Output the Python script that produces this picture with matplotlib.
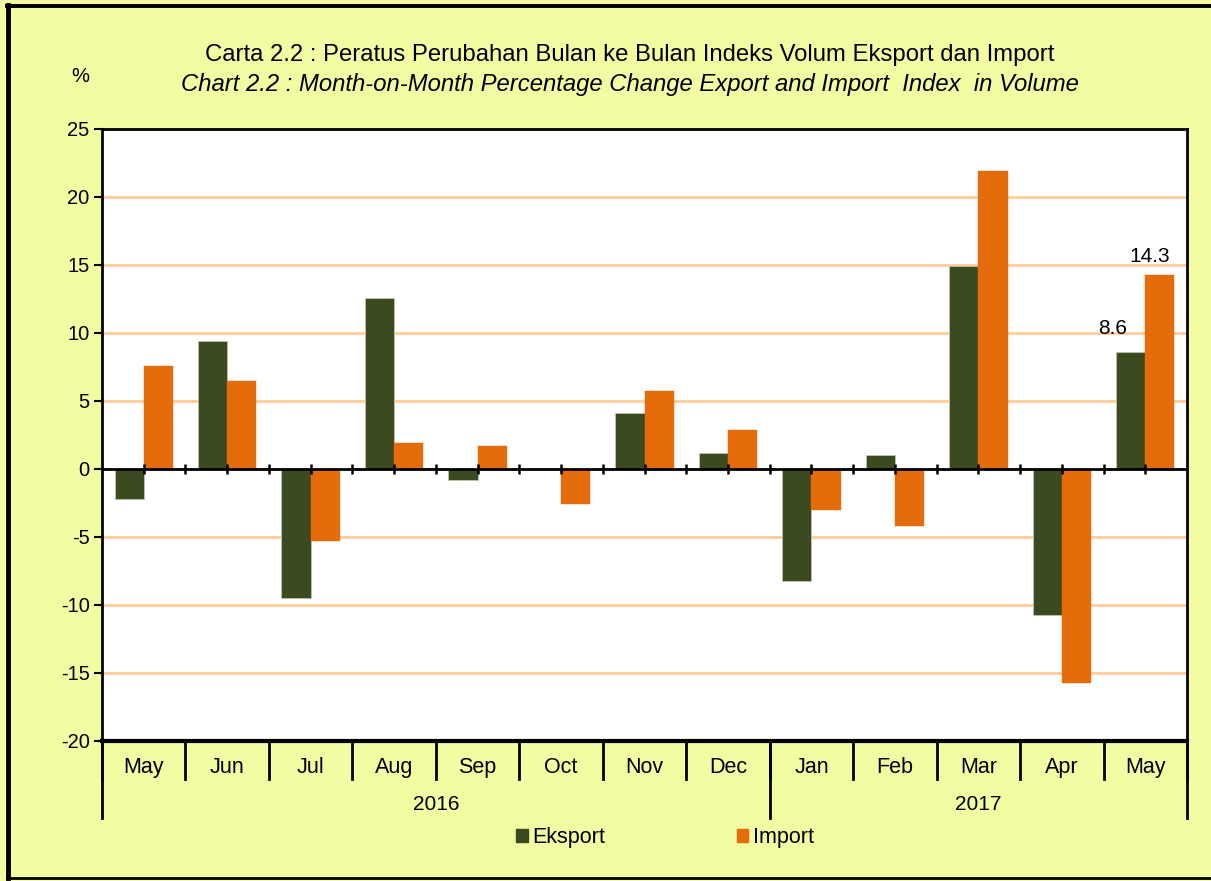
import matplotlib
matplotlib.use("Agg")
import matplotlib.pyplot as plt
from matplotlib.patches import Rectangle
from matplotlib.lines import Line2D
import matplotlib.transforms as mtransforms

plt.rcParams['font.family'] = ['Liberation Sans', 'DejaVu Sans']

months = ["May", "Jun", "Jul", "Aug", "Sep", "Oct", "Nov", "Dec",
          "Jan", "Feb", "Mar", "Apr", "May"]
years = ["2016", "2017"]
year_counts = [8, 5]
eksport = [-2.2, 9.4, -9.5, 12.6, -0.8, 0.1, 4.1, 1.2, -8.2, 1.0, 14.9, -10.7, 8.6]
import_ = [7.6, 6.5, -5.3, 1.9, 1.7, -2.6, 5.7, 2.9, -3.0, -4.2, 21.9, -15.7, 14.3]
yticks = [-20, -15, -10, -5, 0, 5, 10, 15, 20, 25]

title1 = "Carta 2.2 : Peratus Perubahan Bulan ke Bulan Indeks Volum Eksport dan Import"
title2 = "Chart 2.2 : Month-on-Month Percentage Change Export and Import  Index  in Volume"

C_EKS = "#3B4A1F"
C_IMP = "#E46C0A"
BG = "#F3FBA3"
GRID = "#FFCC99"

FS_Y = 14.5
FS_X = 15.5

W, H = 1211, 881
fig = plt.figure(figsize=(W / 100, H / 100), dpi=100, facecolor=BG)

# figure border (left, top, bottom)
fig.lines.append(Line2D([7.5 / W, 7.5 / W], [3 / H, (H - 5) / H],
                        transform=fig.transFigure, color="black", linewidth=3.5))
fig.lines.append(Line2D([7 / W, 1], [(H - 5.5) / H, (H - 5.5) / H],
                        transform=fig.transFigure, color="black", linewidth=2.8))
fig.lines.append(Line2D([7 / W, 1], [3 / H, 3 / H],
                        transform=fig.transFigure, color="black", linewidth=2.0))

ax_l, ax_r, ax_t, ax_b = 102, 1187, 129, 741
ax = fig.add_axes([ax_l / W, 1 - ax_b / H, (ax_r - ax_l) / W, (ax_b - ax_t) / H])
ax.set_facecolor("white")

n = len(months)
x = list(range(n))
bw = 0.35
ax.bar([i - bw / 2 for i in x], eksport, width=bw, color=C_EKS,
       edgecolor="#BFC4B0", linewidth=0.6, zorder=3, label="Eksport")
ax.bar([i + bw / 2 for i in x], import_, width=bw, color=C_IMP,
       edgecolor=C_IMP, linewidth=0.3, zorder=3, label="Import")

ax.set_xlim(-0.5, n - 0.5)
ax.set_ylim(yticks[0], yticks[-1])
ax.set_yticks(yticks)
ax.set_yticklabels([str(v) for v in yticks], fontsize=FS_Y)
ax.tick_params(axis="y", direction="out", length=6, width=1.5, pad=3, colors="black")
ax.set_xticks([])

for v in yticks:
    if v not in (yticks[0], yticks[-1], 0):
        ax.axhline(v, color=GRID, linewidth=2, zorder=1)

for s in ax.spines.values():
    s.set_linewidth(2)
    s.set_color("black")
ax.spines["bottom"].set_visible(False)

# zero axis with ticks at boundaries and centers
ax.axhline(0, color="black", linewidth=2, zorder=4)
ax.axhline(yticks[0], color="black", linewidth=3, zorder=4, clip_on=False)
tpos = [i * 0.5 - 0.5 for i in range(1, 2 * n)]
ax.vlines(tpos, -0.38, 0.38, color="black", linewidth=1.8, zorder=4)

# category axis below plot
bt = mtransforms.blended_transform_factory(ax.transData, ax.transAxes)
for i in range(n + 1):
    ax.plot([i - 0.5, i - 0.5], [0, -0.062], transform=bt, color="black",
            linewidth=2, clip_on=False, zorder=5)
for i in range(n):
    ax.text(i, -0.0425, months[i], transform=bt, ha="center", va="center",
            fontsize=FS_X)
start = 0
bounds = [start]
for c in year_counts:
    start += c
    bounds.append(start)
for b in bounds:
    ax.plot([b - 0.5, b - 0.5], [0, -0.126], transform=bt, color="black",
            linewidth=2, clip_on=False, zorder=5)
for k, yr in enumerate(years):
    cx = (bounds[k] + bounds[k + 1]) / 2 - 0.5
    ax.text(cx, -0.103, yr, transform=bt, ha="center", va="center", fontsize=15)

# data labels for last month
ax.annotate(f"{eksport[-1]:.1f}", (n - 1 - bw / 2, eksport[-1]), xytext=(-13, 17),
            textcoords="offset points", ha="center", va="center", fontsize=15)
ax.annotate(f"{import_[-1]:.1f}", (n - 1 + bw / 2, import_[-1]), xytext=(-7, 13),
            textcoords="offset points", ha="center", va="center", fontsize=15)

# titles
fig.text(630 / W, 1 - 55 / H, title1, ha="center", va="center", fontsize=17.2)
fig.text(630 / W, 1 - 84 / H, title2, ha="center", va="center", fontsize=17.2,
         style="italic")
fig.text(80 / W, 1 - 77 / H, "%", ha="center", va="center", fontsize=FS_Y)

# legend
h1 = Rectangle((0, 0), 1, 1, color=C_EKS)
h2 = Rectangle((0, 0), 1, 1, color=C_IMP)
fig.legend([h1, h2], ["Eksport", "Import"], loc="center",
           bbox_to_anchor=(665 / W, 1 - 838 / H), ncol=2, frameon=False,
           fontsize=FS_X, handlelength=0.55, handleheight=0.55, handletextpad=0.2,
           columnspacing=6.1, borderpad=0, borderaxespad=0)

fig.savefig("out.png", dpi=100, facecolor=BG)
